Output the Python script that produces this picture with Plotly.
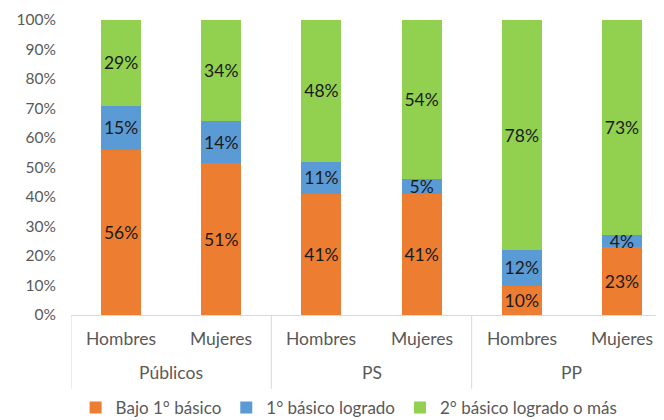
import plotly.graph_objects as go

groups = ["Públicos", "PS", "PP"]
subgroups = ["Hombres", "Mujeres", "Hombres", "Mujeres", "Hombres", "Mujeres"]
series_names = ["Bajo 1° básico", "1° básico logrado", "2° básico logrado o más"]
bajo = [56, 51, 41, 41, 10, 23]
logrado1 = [15, 14, 11, 5, 12, 4]
logrado2 = [29, 34, 48, 54, 78, 73]
y_ticks = [0, 10, 20, 30, 40, 50, 60, 70, 80, 90, 100]
colors = ["#ED7D31", "#5B9BD5", "#92D050"]

FONT = "Lato"
xpos = list(range(len(subgroups)))

fig = go.Figure()
for name, vals, col in zip(series_names, [bajo, logrado1, logrado2], colors):
    fig.add_trace(go.Bar(
        x=xpos, y=vals, name=name, marker=dict(color=col, line=dict(width=0)),
        width=0.4, text=[f"{v}%" for v in vals], textposition="inside",
        insidetextanchor="middle", textangle=0,
        textfont=dict(family=FONT, size=17.5, color="#1a1a1a"),
        constraintext="none",
    ))

annotations = []
for i, s in enumerate(subgroups):
    annotations.append(dict(x=i, y=0, xref="x", yref="paper", text=s, showarrow=False,
                            yshift=-23, yanchor="middle",
                            font=dict(family=FONT, size=17.5, color="#595959")))
for g, name in enumerate(groups):
    annotations.append(dict(x=2 * g + 0.5, y=0, xref="x", yref="paper", text=name, showarrow=False,
                            yshift=-57, yanchor="middle",
                            font=dict(family=FONT, size=17.5, color="#595959")))

shapes = []
for xs in [-0.5, 1.5, 3.5]:
    shapes.append(dict(type="line", xref="x", yref="paper", x0=xs, x1=xs, y0=0, y1=-0.25,
                       line=dict(color="#D9D9D9", width=1)))

fig.update_layout(
    width=656, height=412,
    margin=dict(l=63, r=0, t=12, b=105, autoexpand=False),
    paper_bgcolor="white", plot_bgcolor="white",
    barmode="stack", barnorm="percent",
    showlegend=True,
    legend=dict(orientation="h", x=0.52, xanchor="center", xref="container",
                y=-0.315, yref="paper", yanchor="middle",
                font=dict(family=FONT, size=17, color="#595959"),
                itemwidth=30, tracegroupgap=0, traceorder="normal"),
    xaxis=dict(range=[-0.5, 5.42], showticklabels=False, showgrid=False, zeroline=False,
               showline=True, linecolor="#D9D9D9", linewidth=1, ticks="", automargin=False),
    yaxis=dict(range=[0, 100], tickvals=y_ticks, ticktext=[f"{v}%" for v in y_ticks],
               showgrid=False, zeroline=False, showline=False, automargin=False,
               tickfont=dict(family=FONT, size=15.5, color="#595959"),
               ticklabelstandoff=14),
    annotations=annotations, shapes=shapes,
)

fig.write_html("out.html")
